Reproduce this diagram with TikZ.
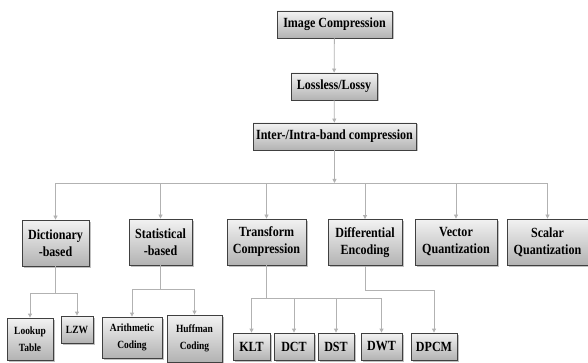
\documentclass[tikz,border=0pt]{standalone}
\usepackage{fontspec}
\setmainfont{Liberation Serif}[FakeStretch=0.86]
\usetikzlibrary{arrows.meta,shadows}

\tikzset{
  box/.style={draw=black!75, line width=0.8pt, top color=gray!10, bottom color=gray!60,
    drop shadow={shadow xshift=1.5pt, shadow yshift=-1.5pt, fill=gray!60, opacity=0.8},
    inner sep=0pt, align=center, font=\bfseries\fontsize{14}{17}\selectfont},
  leaf/.style={box, font=\bfseries\fontsize{11}{17}\selectfont},
  link/.style={draw=gray!60, line width=0.8pt},
  arr/.style={link, -{Triangle[width=4pt,length=4pt]}}
}

\begin{document}
\begin{tikzpicture}[x=1pt, y=-1pt]
  \useasboundingbox (0,0) rectangle (588,363);

  \node[box, minimum width=115, minimum height=27] (img) at (334.5,24.5) {Image Compression};
  \node[box, minimum width=86, minimum height=27] (loss) at (334,86.5) {Lossless/Lossy};
  \node[box, minimum width=163, minimum height=27] (inter) at (334.5,136.5) {Inter-/Intra-band compression};

  \node[box, minimum width=67, minimum height=46] (dict) at (55.5,243) {Dictionary\\-based};
  \node[box, minimum width=63, minimum height=46] (stat) at (160.5,242) {Statistical\\-based};
  \node[box, minimum width=79, minimum height=46] (trans) at (266.5,242) {Transform\\Compression};
  \node[box, minimum width=74, minimum height=46] (diff) at (365,242.5) {Differential\\Encoding};
  \node[box, minimum width=82, minimum height=46] (vec) at (456,242) {Vector\\Quantization};
  \node[box, minimum width=81, minimum height=46] (scal) at (547.5,242) {Scalar\\Quantization};

  \node[leaf, minimum width=46, minimum height=42] (look) at (30,339) {Lookup\\Table};
  \node[leaf, minimum width=32, minimum height=27] (lzw) at (77,329.5) {LZW};
  \node[leaf, minimum width=60, minimum height=41] (arith) at (132,337.5) {Arithmetic\\Coding};
  \node[leaf, minimum width=55, minimum height=47] (huff) at (194.5,338.5) {Huffman\\Coding};
  \node[box, minimum width=37, minimum height=27] (klt) at (251.5,346.5) {KLT};
  \node[box, minimum width=40, minimum height=27] (dct) at (294,346.5) {DCT};
  \node[box, minimum width=36, minimum height=27] (dst) at (336,346.5) {DST};
  \node[box, minimum width=41, minimum height=27] (dwt) at (381.5,346.5) {DWT};
  \node[box, minimum width=46, minimum height=27] (dpcm) at (434,346.5) {DPCM};

  \coordinate (bus) at (inter.south |- 0,183);
  \coordinate (dictbus) at (dict.south |- 0,293);
  \coordinate (statbus) at (stat.south |- 0,289);
  \coordinate (transbus) at (trans.south |- 0,298);
  \coordinate (diffbus) at (diff.south |- 0,290);

  \draw[arr] (img) -- (loss);
  \draw[arr] (loss) -- (inter);
  \draw[arr] (inter.south) -- (bus);
  \foreach \c in {dict,stat,trans,diff,vec,scal}
    \draw[arr] (bus) -| (\c.north);

  \draw[link] (dict.south) -- (dictbus);
  \foreach \c in {look,lzw}
    \draw[arr] (dictbus) -| (\c.north);
  \draw[link] (stat.south) -- (statbus);
  \foreach \c in {arith,huff}
    \draw[arr] (statbus) -| (\c.north);
  \draw[link] (trans.south) -- (transbus);
  \foreach \c in {klt,dct,dst,dwt}
    \draw[arr] (transbus) -| (\c.north);
  \draw[arr] (diff.south) |- (diffbus) -| (dpcm.north);
\end{tikzpicture}
\end{document}
